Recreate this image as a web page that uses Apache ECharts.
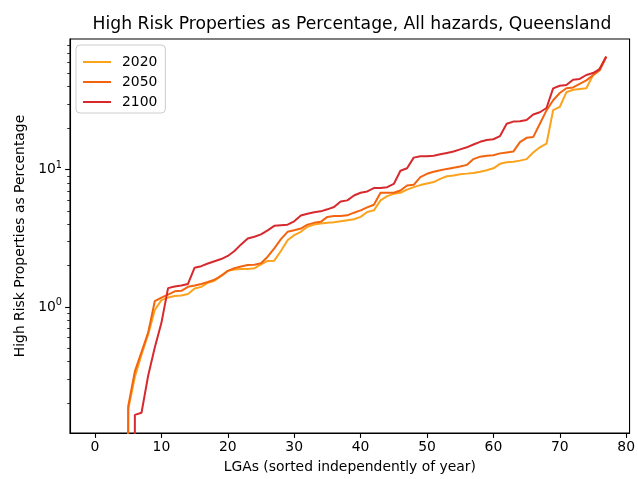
<!DOCTYPE html>
<html>
<head>
<meta charset="utf-8">
<script src="https://cdn.jsdelivr.net/npm/echarts@6/dist/echarts.min.js"></script>
<style>
  html, body { margin: 0; padding: 0; background: #fff; }
  #chart { width: 638px; height: 479px; }
</style>
</head>
<body>
<div id="chart"></div>
<script>
// LGA index along the x axis (sorted independently of year)
const lgaIndex = Array.from({ length: 78 }, (_, i) => i);

// Percentage of high-risk properties per LGA, all hazards
const pct2020 = [
  0, 0, 0, 0, 0, 0.18, 0.31, 0.45, 0.63, 0.95,
  1.12, 1.17, 1.20, 1.21, 1.24, 1.36, 1.40, 1.50, 1.55, 1.69,
  1.83, 1.87, 1.89, 1.89, 1.91, 2.04, 2.16, 2.17, 2.55, 3.06,
  3.33, 3.52, 3.83, 3.97, 4.04, 4.09, 4.13, 4.20, 4.27, 4.34,
  4.52, 4.91, 5.04, 5.96, 6.40, 6.65, 6.77, 7.14, 7.44, 7.70,
  7.90, 8.10, 8.54, 8.93, 9.04, 9.23, 9.33, 9.44, 9.64, 9.86,
  10.2, 11.0, 11.3, 11.4, 11.6, 11.9, 13.3, 14.5, 15.4, 27.0,
  28.5, 36.5, 38.0, 38.5, 39.0, 48.5, 54.0, 66.0
];
const pct2050 = [
  0, 0, 0, 0, 0, 0.19, 0.34, 0.47, 0.65, 1.10,
  1.17, 1.23, 1.30, 1.31, 1.40, 1.43, 1.47, 1.52, 1.58, 1.68,
  1.83, 1.91, 1.97, 2.02, 2.03, 2.08, 2.32, 2.67, 3.11, 3.52,
  3.61, 3.72, 3.97, 4.09, 4.16, 4.52, 4.59, 4.59, 4.64, 4.85,
  5.04, 5.30, 5.54, 6.77, 6.77, 6.77, 7.03, 7.64, 7.74, 8.8,
  9.3, 9.64, 9.86, 10.1, 10.3, 10.5, 10.8, 11.9, 12.4, 12.6,
  12.7, 13.1, 13.3, 13.5, 15.8, 17.0, 17.2, 21.5, 26.9, 31.9,
  36.0, 39.0, 39.5, 42.0, 44.5, 48.5, 52.5, 66.0
];
const pct2100 = [
  0, 0, 0, 0, 0, 0, 0.164, 0.17, 0.316, 0.506,
  0.766, 1.37, 1.41, 1.43, 1.47, 1.93, 1.98, 2.07, 2.15, 2.23,
  2.35, 2.55, 2.85, 3.15, 3.24, 3.37, 3.61, 3.89, 3.93, 3.97,
  4.20, 4.62, 4.77, 4.88, 4.96, 5.13, 5.33, 5.86, 5.96, 6.47,
  6.77, 6.92, 7.32, 7.32, 7.44, 7.85, 9.8, 10.2, 12.2, 12.5,
  12.5, 12.6, 12.9, 13.2, 13.5, 14.0, 14.5, 15.2, 15.9, 16.4,
  16.6, 17.5, 21.5, 22.3, 22.4, 22.9, 25.1, 26.1, 28.0, 38.9,
  40.7, 41.2, 45.0, 45.6, 48.7, 50.3, 53.8, 66.3
];

const seriesNames = ['2020', '2050', '2100'];
const seriesValues = [pct2020, pct2050, pct2100];
const seriesColors = ['#fba31c', '#f3640f', '#d62a2e'];

// Tick positions
const xTicks = [0, 10, 20, 30, 40, 50, 60, 70, 80];
const yMajorTicks = [1, 10];
const yMinorTicks = [0.2, 0.3, 0.4, 0.5, 0.6, 0.7, 0.8, 0.9,
                     2, 3, 4, 5, 6, 7, 8, 9, 20, 30, 40, 50, 60, 70, 80];

const FONT = 'DejaVu Sans';
const X_MIN = -3.77, X_MAX = 80.51;
const Y_MIN = 0.121, Y_MAX = 89;
// A log axis cannot place zero; zero shares drop to a tiny floor far below the plot
const LOG_FLOOR = 1e-30;

const chart = echarts.init(document.getElementById('chart'), null, { renderer: 'canvas' });

const series = seriesNames.map((name, k) => ({
  name,
  type: 'line',
  yAxisIndex: 0,
  data: lgaIndex.map(i => [i, seriesValues[k][i] > 0 ? seriesValues[k][i] : LOG_FLOOR]),
  symbol: 'none',
  clip: true,
  lineStyle: { width: 2, color: seriesColors[k] },
  itemStyle: { color: seriesColors[k] },
  z: 2 + k
}));

const yBase = {
  type: 'log',
  logBase: 10,
  min: Y_MIN,
  max: Y_MAX,
  position: 'left',
  splitLine: { show: false }
};

chart.setOption({
  animation: false,
  backgroundColor: '#ffffff',
  title: {
    text: 'High Risk Properties as Percentage, All hazards, Queensland',
    left: 347,
    textAlign: 'center',
    top: 11,
    textStyle: { fontFamily: FONT, fontSize: 17.2, fontWeight: 'normal', color: '#000' }
  },
  legend: {
    data: seriesNames.map(n => ({ name: n, icon: 'path://M0,0H28V2H0Z' })),
    orient: 'vertical',
    left: 76,
    top: 45,
    padding: [10, 8, 4, 7],
    itemWidth: 28,
    itemHeight: 14,
    itemGap: 6,
    symbolKeepAspect: true,
    backgroundColor: 'rgba(255,255,255,0.8)',
    borderColor: '#cccccc',
    borderWidth: 1,
    borderRadius: 4,
    textStyle: { fontFamily: FONT, fontSize: 13.9, color: '#000', padding: [0, 0, 0, 6] }
  },
  grid: {
    left: 70, right: 5, top: 39, bottom: 43,
    show: true, borderColor: '#000', borderWidth: 1.1,
    containLabel: false
  },
  xAxis: {
    type: 'value',
    min: X_MIN,
    max: X_MAX,
    name: 'LGAs (sorted independently of year)',
    nameLocation: 'middle',
    nameGap: 27,
    nameTextStyle: { fontFamily: FONT, fontSize: 13.9, color: '#000' },
    axisLine: { show: true, onZero: false, lineStyle: { color: '#000', width: 1.1 } },
    axisTick: { show: true, length: 4.9, lineStyle: { color: '#000', width: 1.1 }, customValues: xTicks },
    axisLabel: { fontFamily: FONT, fontSize: 13.9, color: '#000', margin: 7, customValues: xTicks },
    splitLine: { show: false }
  },
  yAxis: [
    Object.assign({}, yBase, {
      name: 'High Risk Properties as Percentage',
      nameLocation: 'middle',
      nameGap: 43,
      nameRotate: 90,
      nameTextStyle: { fontFamily: FONT, fontSize: 13.9, color: '#000' },
      axisLine: { show: true, onZero: false, lineStyle: { color: '#000', width: 1.1 } },
      axisTick: { show: true, length: 4.9, lineStyle: { color: '#000', width: 1.1 }, customValues: yMajorTicks },
      axisLabel: {
        fontFamily: FONT, fontSize: 13.9, color: '#000', margin: 8,
        customValues: yMajorTicks,
        formatter: v => '10{s|' + Math.round(Math.log10(v)) + '}',
        rich: { s: { fontFamily: FONT, fontSize: 9.7, color: '#000', padding: [0, 0, 8, 0] } }
      }
    }),
    Object.assign({}, yBase, {
      axisLine: { show: false, onZero: false },
      axisTick: { show: true, length: 2.8, lineStyle: { color: '#000', width: 0.8 }, customValues: yMinorTicks },
      axisLabel: { show: false }
    })
  ],
  series
});
</script>
</body>
</html>
